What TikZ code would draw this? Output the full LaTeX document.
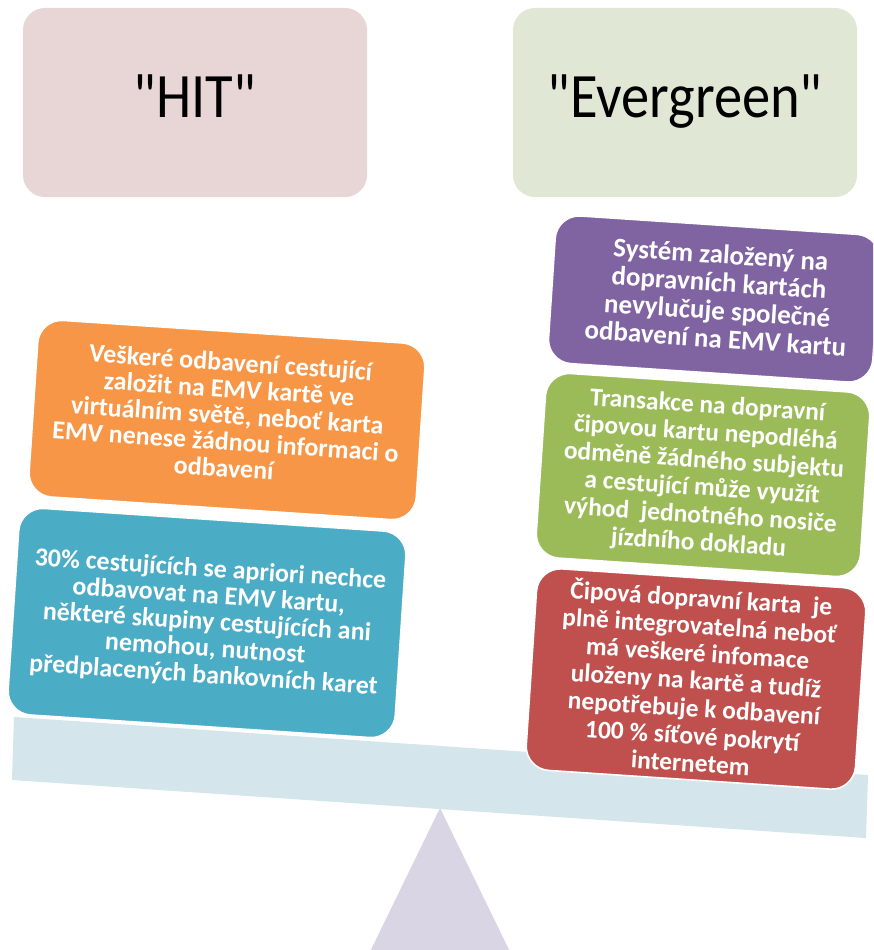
\documentclass[tikz,border=0pt]{standalone}
\usepackage{fontspec}
\setmainfont{Carlito}
% plain quotes in the headings: no TeX ligature mapping
\newfontfamily\headfont{Carlito}
\definecolor{hitfill}{RGB}{232,213,213}
\definecolor{evgfill}{RGB}{224,231,213}
\definecolor{cardorange}{RGB}{247,150,70}
\definecolor{cardblue}{RGB}{75,172,198}
\definecolor{cardpurple}{RGB}{128,100,162}
\definecolor{cardgreen}{RGB}{155,187,89}
\definecolor{cardred}{RGB}{192,80,77}
\definecolor{beamfill}{RGB}{213,229,236}
\definecolor{pivotfill}{RGB}{217,213,228}
\begin{document}
\begin{tikzpicture}[x=1pt,y=-1pt,
  headbox/.style={rectangle, rounded corners=22pt, minimum width=344pt,
    minimum height=189pt, inner sep=0pt, text height=41pt, text depth=12pt,
    font=\headfont\fontsize{56.5}{60}\selectfont, text=black},
  card/.style={rectangle, rounded corners=24pt, draw=white, line width=1.6pt,
    inner sep=0pt, rotate=-3.8},
  cardtext/.style={text=white, align=center, inner sep=0pt, rotate=-3.8},
  bodyfont/.style 2 args={font=\bfseries\fontsize{#1}{#2}\selectfont},
]
\clip (0,0) rectangle (873,950);
\fill[white] (0,0) rectangle (873,950);

% headings
\node[headbox, fill=hitfill] (hit) at (195,102.5) {\scalebox{1}[1.12]{"HIT"}};
\node[headbox, fill=evgfill] (evg) at (685,102.5) {\scalebox{1}[1.12]{"Evergreen"}};

% the balance: tilted beam resting on a pivot
\fill[pivotfill] (440,808) -- (366,960) -- (514,960) -- cycle;
\fill[beamfill] (14,717) -- (868,775) -- (866,838) -- (12,780) -- cycle;

% left pan
\node[card, fill=cardorange, minimum width=388pt, minimum height=177pt] (orange) at (227,420) {};
\node[cardtext, bodyfont={26}{26.5}, yshift=5pt] (orangetext) at (orange.center)
  {Veškeré odbavení cestující\\ založit na EMV kartě ve\\ virtuálním světě, neboť karta\\
   EMV nenese žádnou informaci o\\ odbavení};
\node[card, fill=cardblue, minimum width=388pt, minimum height=207pt] (blue) at (207,623) {};
\node[cardtext, bodyfont={26}{26.5}] (bluetext) at (blue.center)
  {30\% cestujících se apriori nechce\\ odbavovat na EMV kartu,\\ některé skupiny cestujících ani\\
   nemohou, nutnost\\ předplacených bankovních karet};

% right pan
\node[card, fill=cardpurple, minimum width=325pt, minimum height=148pt] (purple) at (714,299) {};
\node[cardtext, bodyfont={27}{28}, xshift=4pt, yshift=3pt] (purpletext) at (purple.center)
  {Systém založený na\\ dopravních kartách\\ nevylučuje společné\\ odbavení na EMV kartu};
\node[card, fill=cardgreen, minimum width=325pt, minimum height=185pt] (green) at (703,475) {};
\node[cardtext, bodyfont={25.5}{27.5}] (greentext) at (green.center)
  {Transakce na dopravní\\ čipovou kartu nepodléhá\\ odměně žádného subjektu\\
   a cestující může využít\\ výhod\ \ jednotného nosiče\\ jízdního dokladu};
\node[card, fill=cardred, minimum width=330pt, minimum height=202pt] (red) at (696,679) {};
\node[cardtext, bodyfont={25.5}{27.5}] (redtext) at (red.center)
  {Čipová dopravní karta\ \ je\\ plně integrovatelná neboť\\ má veškeré infomace\\
   uloženy na kartě a tudíž\\ nepotřebuje k odbavení\\ 100 \% síťové pokrytí\\ internetem};
\end{tikzpicture}
\end{document}
